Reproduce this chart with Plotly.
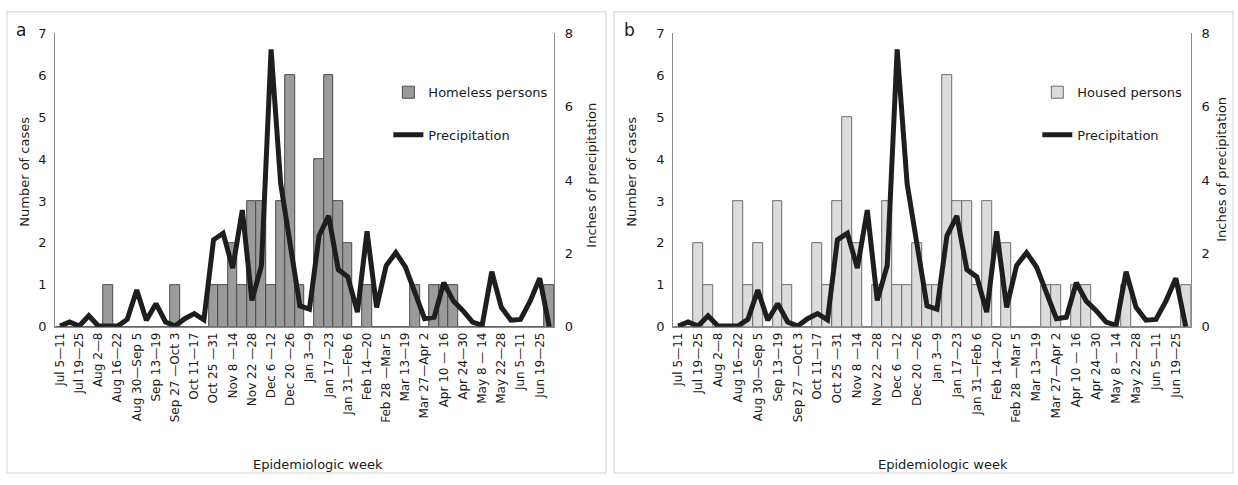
import plotly.graph_objects as go

# ---------------- data ----------------
weeks = [
    "Jul 5—11", "Jul 12—18", "Jul 19—25", "Jul 26—Aug 1", "Aug 2—8", "Aug 9—15",
    "Aug 16—22", "Aug 23—29", "Aug 30—Sep 5", "Sep 6—12", "Sep 13—19", "Sep 20—26",
    "Sep 27—Oct 3", "Oct 4—10", "Oct 11—17", "Oct 18—24", "Oct 25—31", "Nov 1—7",
    "Nov 8—14", "Nov 15—21", "Nov 22—28", "Nov 29—Dec 5", "Dec 6—12", "Dec 13—19",
    "Dec 20—26", "Dec 27—Jan 2", "Jan 3—9", "Jan 10—16", "Jan 17—23", "Jan 24—30",
    "Jan 31—Feb 6", "Feb 7—13", "Feb 14—20", "Feb 21—27", "Feb 28—Mar 5", "Mar 6—12",
    "Mar 13—19", "Mar 20—26", "Mar 27—Apr 2", "Apr 3—9", "Apr 10—16", "Apr 17—23",
    "Apr 24—30", "May 1—7", "May 8—14", "May 15—21", "May 22—28", "May 29—Jun 4",
    "Jun 5—11", "Jun 12—18", "Jun 19—25", "Jun 26—Jul 2",
]
tick_labels = [
    "Jul 5—11", "Jul 19—25", "Aug 2—8", "Aug 16—22", "Aug 30—Sep 5", "Sep 13—19",
    "Sep 27 —Oct 3", "Oct 11—17", "Oct 25 —31", "Nov 8 —14", "Nov 22 —28", "Dec 6 —12",
    "Dec 20 —26", "Jan 3—9", "Jan 17—23", "Jan 31—Feb 6", "Feb 14—20", "Feb 28 —Mar 5",
    "Mar 13—19", "Mar 27—Apr 2", "Apr 10 — 16", "Apr 24—30", "May 8 — 14", "May 22—28",
    "Jun 5—11", "Jun 19—25",
]
homeless = [0, 0, 0, 0, 0, 1, 0, 0, 0, 0, 0, 0, 1, 0, 0, 0, 1, 1, 2, 1, 3, 3, 1, 3, 6, 1,
            0, 4, 6, 3, 2, 0, 1, 0, 0, 0, 0, 1, 0, 1, 1, 1, 0, 0, 0, 0, 0, 0, 0, 0, 0, 1]
housed = [0, 0, 2, 1, 0, 0, 3, 1, 2, 0, 3, 1, 0, 0, 2, 1, 3, 5, 2, 0, 1, 3, 1, 1, 2, 1,
          1, 6, 3, 3, 1, 3, 0, 2, 0, 0, 0, 1, 1, 0, 1, 1, 0, 0, 0, 1, 0, 0, 0, 0, 0, 1]
precip = [0.02, 0.13, 0.02, 0.30, 0.02, 0.02, 0.02, 0.20, 1.00, 0.18, 0.63, 0.13, 0.02,
          0.22, 0.36, 0.19, 2.37, 2.55, 1.60, 3.18, 0.72, 1.67, 7.56, 3.90, 2.30, 0.57,
          0.48, 2.48, 3.02, 1.56, 1.36, 0.40, 2.60, 0.53, 1.67, 2.02, 1.63, 0.97, 0.22,
          0.26, 1.20, 0.70, 0.44, 0.13, 0.04, 1.50, 0.53, 0.18, 0.20, 0.70, 1.32, 0.00]

# ---------------- layout helpers ----------------
W, H = 1238, 485
def px(x):
    return x / W
def py(y):
    return 1 - y / H

FONT = "DejaVu Sans"
TXT = "#1a1a1a"
AXC = "#8a8a8a"
LINEC = "#1e1e1e"

fig = go.Figure()

fig.add_trace(go.Bar(x=weeks, y=homeless, name="Homeless persons", showlegend=True,
                     marker=dict(color="#9b9b9b", line=dict(color="#4a4a4a", width=1)),
                     xaxis="x", yaxis="y", legend="legend"))
fig.add_trace(go.Scatter(x=weeks, y=precip, name="Precipitation", mode="lines", showlegend=True,
                         line=dict(color=LINEC, width=5),
                         xaxis="x", yaxis="y2", legend="legend2"))
fig.add_trace(go.Bar(x=weeks, y=housed, name="Housed persons", showlegend=True,
                     marker=dict(color="#dcdcdc", line=dict(color="#6e6e6e", width=1)),
                     xaxis="x2", yaxis="y3", legend="legend3"))
fig.add_trace(go.Scatter(x=weeks, y=precip, name="Precipitation", mode="lines", showlegend=True,
                         line=dict(color=LINEC, width=5),
                         xaxis="x2", yaxis="y4", legend="legend4"))

xcommon = dict(type="category", range=[-0.5, len(weeks) - 0.5],
               tickmode="array", tickvals=weeks[::2], ticktext=tick_labels,
               tickangle=-90, showline=True, linecolor=AXC, linewidth=1,
               showgrid=False, zeroline=False, ticks="",
               tickfont=dict(family=FONT, size=12, color=TXT))
yleft = dict(range=[0, 7], dtick=1, showline=True, linecolor=AXC, linewidth=1,
             showgrid=False, zeroline=False, ticks="", ticklabelstandoff=5,
             tickfont=dict(family=FONT, size=13, color=TXT))
yright = dict(range=[0, 8], dtick=2, side="right", showline=True, linecolor=AXC,
              linewidth=1, showgrid=False, zeroline=False, ticks="", ticklabelstandoff=7,
              tickfont=dict(family=FONT, size=13, color=TXT))

ydom = [py(330), py(27)]

legfont = dict(family=FONT, size=13, color=TXT)
def leg(x, y):
    return dict(x=x, y=y, xanchor="left", yanchor="middle", bgcolor="rgba(0,0,0,0)",
                font=legfont, itemwidth=30)

fig.update_layout(
    width=W, height=H,
    margin=dict(l=0, r=0, t=0, b=0),
    paper_bgcolor="white", plot_bgcolor="white",
    bargap=0,
    showlegend=True,
    xaxis=dict(domain=[px(53.3), px(553)], anchor="y", **xcommon),
    yaxis=dict(domain=ydom, anchor="x", **yleft),
    yaxis2=dict(overlaying="y", anchor="x", **yright),
    xaxis2=dict(domain=[px(672.3), px(1190.7)], anchor="y3", **xcommon),
    yaxis3=dict(domain=ydom, anchor="x2", **yleft),
    yaxis4=dict(overlaying="y3", anchor="x2", **yright),
    legend=leg(px(387), py(88)),
    legend2=leg(px(387), py(132)),
    legend3=leg(px(1037), py(88)),
    legend4=leg(px(1037), py(132)),
    shapes=[
        dict(type="rect", xref="paper", yref="paper", x0=px(5), x1=px(605), y0=py(481), y1=py(5),
             line=dict(color="#e0e0e0", width=1.5)),
        dict(type="rect", xref="paper", yref="paper", x0=px(613), x1=px(1233), y0=py(481), y1=py(5),
             line=dict(color="#e0e0e0", width=1.5)),
    ],
)

def ann(text, x, y, size=13, angle=0):
    fig.add_annotation(text=text, x=px(x), y=py(y), xref="paper", yref="paper",
                       showarrow=False, textangle=angle, xanchor="center", yanchor="middle",
                       font=dict(family=FONT, size=size, color=TXT))

ann("a", 19, 24, size=17)
ann("b", 629, 24, size=17)
ann("Number of cases", 23, 170, angle=-90)
ann("Number of cases", 631, 170, angle=-90)
ann("Inches of precipitation", 591, 174, angle=-90)
ann("Inches of precipitation", 1222, 168, angle=-90)
ann("Epidemiologic week", 317, 472)
ann("Epidemiologic week", 943, 472)

fig.write_html("out.html", config={"displayModeBar": False},
               post_script="document.body.style.margin='0';document.body.style.overflow='hidden';")
